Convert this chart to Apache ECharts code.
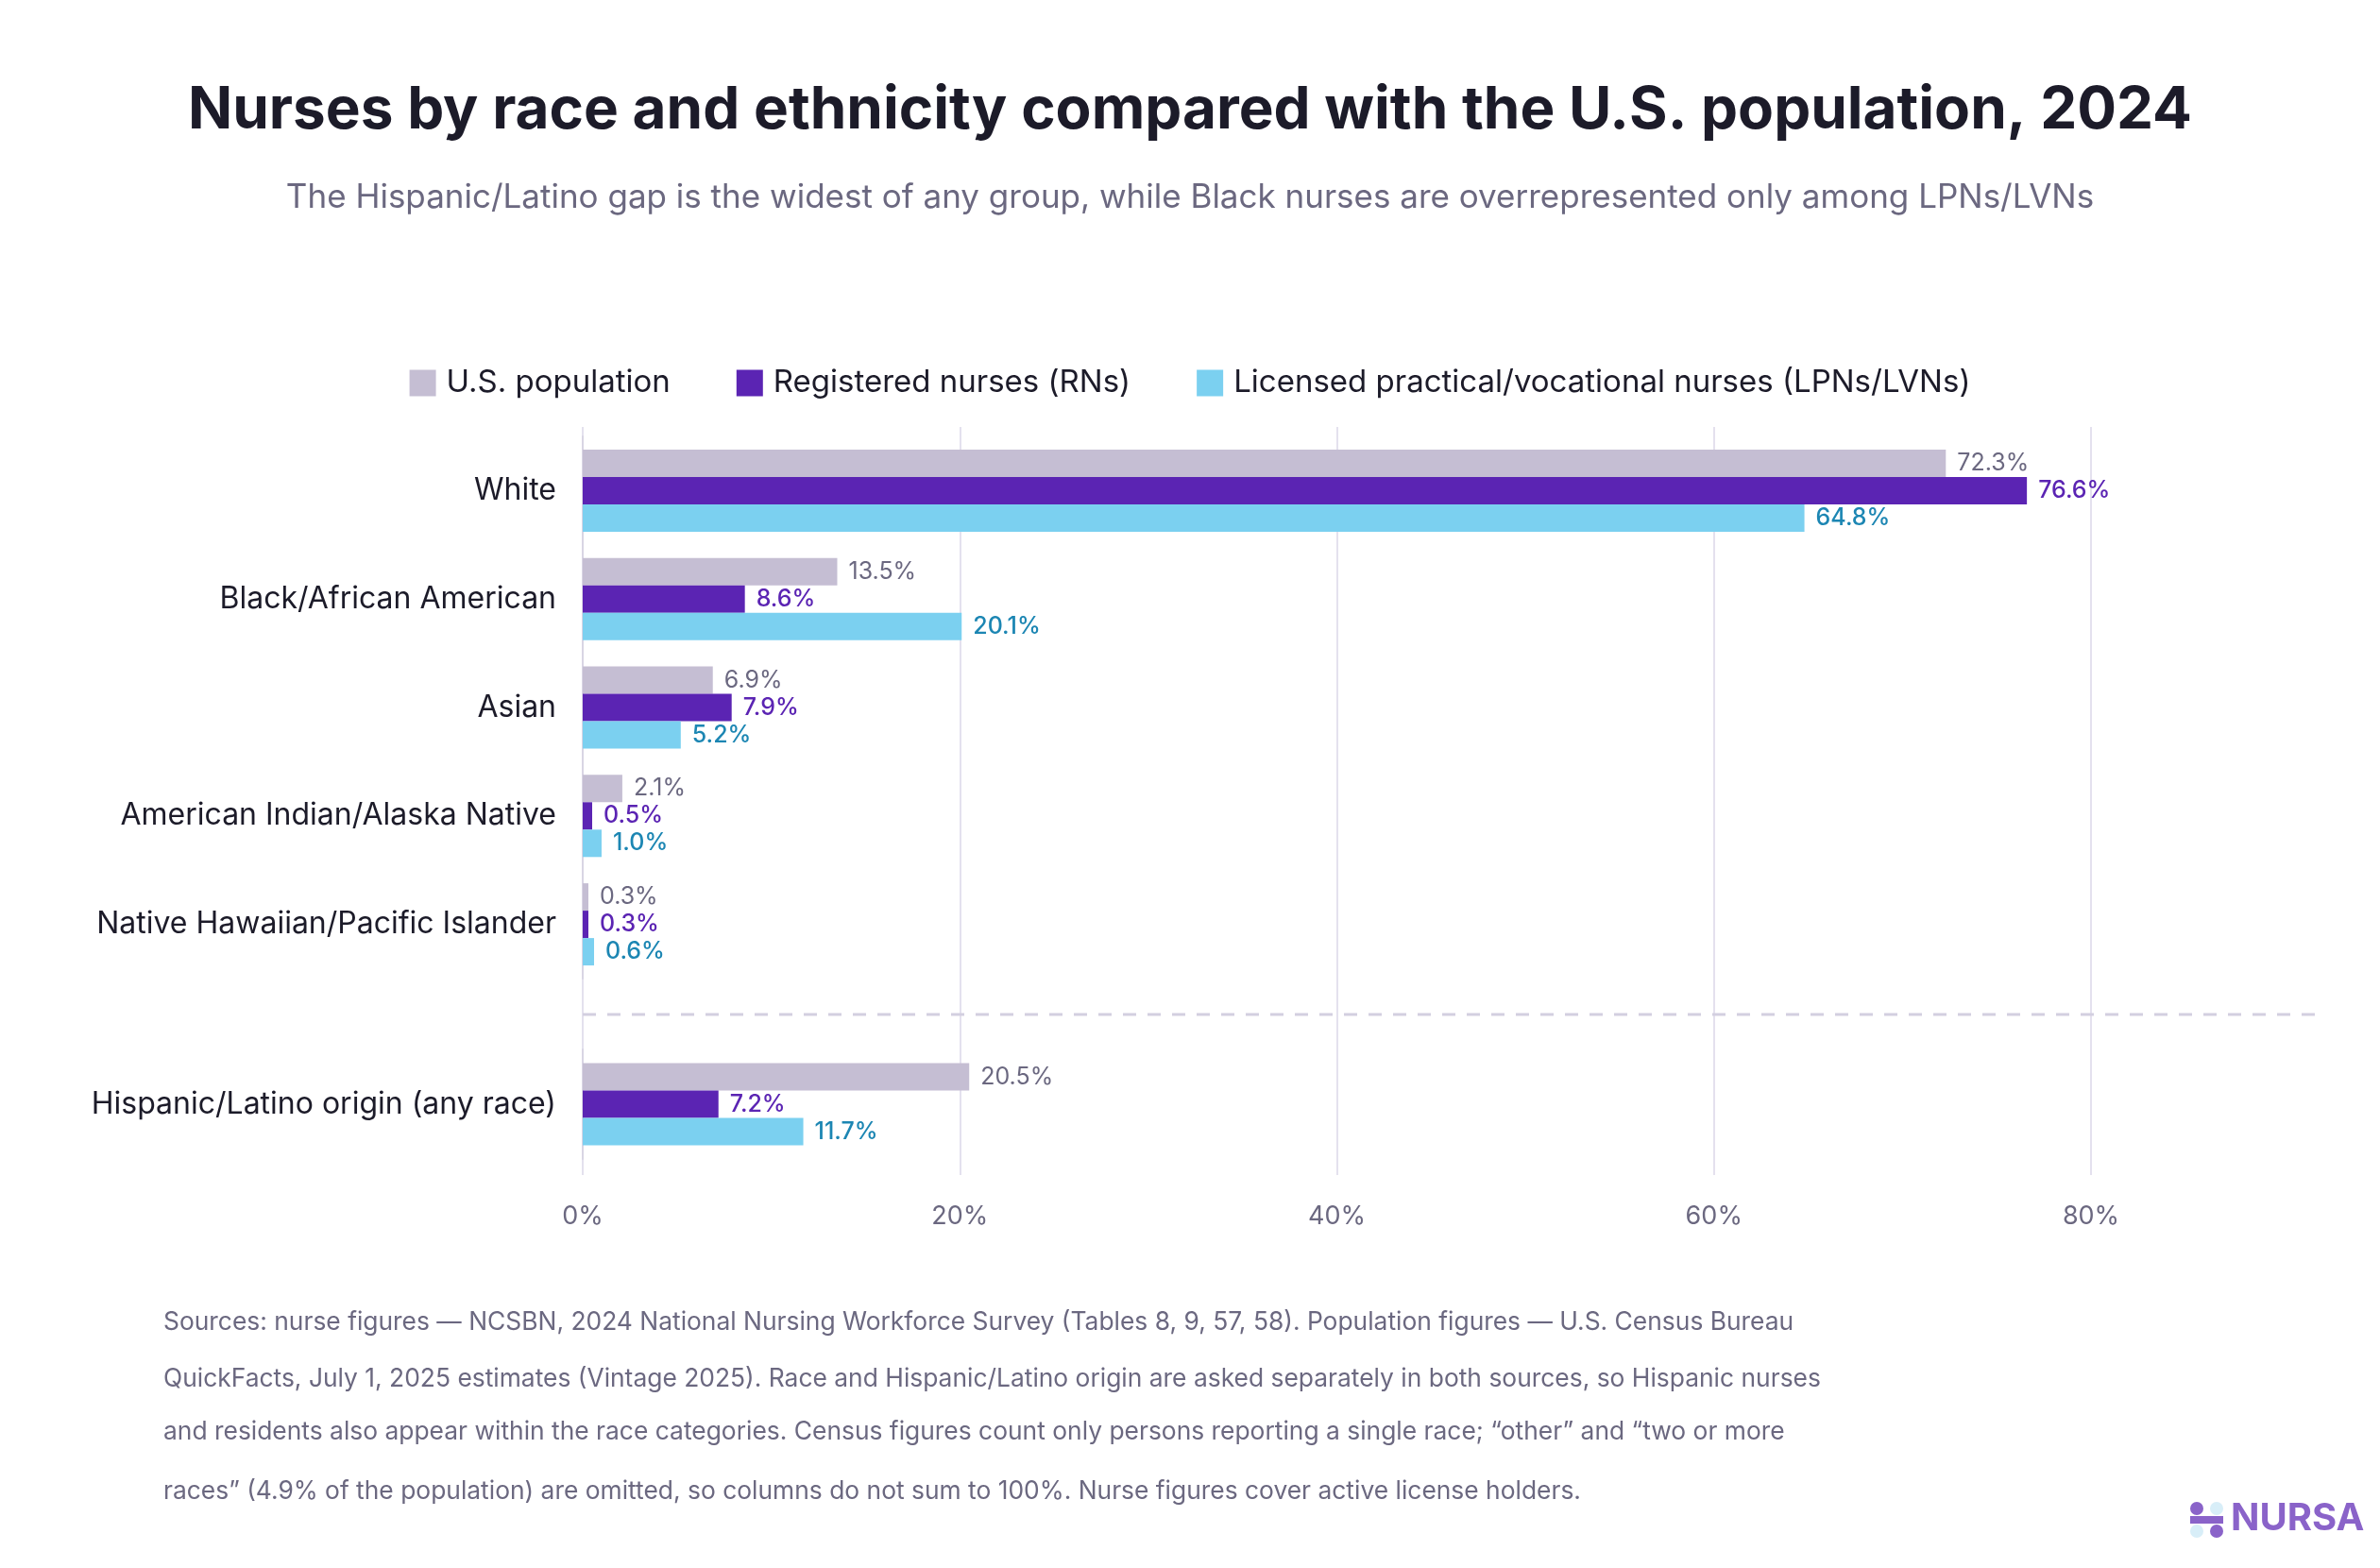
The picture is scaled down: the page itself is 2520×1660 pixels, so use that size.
<!DOCTYPE html>
<html><head><meta charset="utf-8">
<script src="https://cdn.jsdelivr.net/npm/echarts@6/dist/echarts.min.js"></script>
<style>html,body{margin:0;padding:0;background:#fff}#c{width:2520px;height:1660px}</style>
</head><body><div id="c"></div>
<script>
const raceCategories = ['White','Black/African American','Asian','American Indian/Alaska Native','Native Hawaiian/Pacific Islander'];
const ethCategories = ['Hispanic/Latino origin (any race)'];
const seriesNames = ['U.S. population','Registered nurses (RNs)','Licensed practical/vocational nurses (LPNs/LVNs)'];
const popRace = [72.3, 13.5, 6.9, 2.1, 0.3];
const rnRace = [76.6, 8.6, 7.9, 0.5, 0.3];
const lpnRace = [64.8, 20.1, 5.2, 1.0, 0.6];
const popEth = [20.5];
const rnEth = [7.2];
const lpnEth = [11.7];
const xTicks = [0, 20, 40, 60, 80];
const footnote = [
 'Sources: nurse figures — NCSBN, 2024 National Nursing Workforce Survey (Tables 8, 9, 57, 58). Population figures — U.S. Census Bureau',
 'QuickFacts, July 1, 2025 estimates (Vintage 2025). Race and Hispanic/Latino origin are asked separately in both sources, so Hispanic nurses',
 'and residents also appear within the race categories. Census figures count only persons reporting a single race; “other” and “two or more',
 'races” (4.9% of the population) are omitted, so columns do not sum to 100%. Nurse figures cover active license holders.'
];
const colors = ['#c5bed3','#5b24b3','#7bd0f0'];
const labelColors = ['#6b6880','#5b24b3','#1c86b3'];
const FONT = 'Inter, "Noto Sans", sans-serif';
const chart = echarts.init(document.getElementById('c'));
const L = 617, R = 306;
function xa(idx, show){
  return {type:'value', gridIndex:idx, min:xTicks[0], max:xTicks[xTicks.length-1], interval:20,
    axisLine:{show:false}, axisTick:{show:false},
    axisLabel:{show:show, formatter:v=>v+'%', color:'#6b6880', fontSize:27, fontFamily:FONT, margin:30},
    splitLine:{show:show, lineStyle:{color:'#e4e1ee', width:2}}};
}
function ya(idx, cats){
  return {type:'category', gridIndex:idx, data:cats, inverse:true,
    axisLine:{show:idx!==0, lineStyle:{color:'#d9d5e4', width:2}}, axisTick:{show:false},
    axisLabel:{show:idx!==0, color:'#1c1b29', fontSize:32, fontFamily:FONT, margin:28}};
}
const series = [];
const sets = [[popRace,rnRace,lpnRace],[popEth,rnEth,lpnEth]];
sets.forEach((s, gi) => {
  s.forEach((arr, k) => {
    series.push({name:seriesNames[k], type:'bar', xAxisIndex:gi+1, yAxisIndex:gi+1, data:arr,
      barWidth:29, barGap:'0%', itemStyle:{color:colors[k]},
      label:{show:true, position:'right', distance:12, formatter:p=>p.value.toFixed(1)+'%',
        color:labelColors[k], fontSize:25, fontFamily:FONT, fontWeight: k===0?'normal':500}});
  });
});
series.push({type:'bar', xAxisIndex:0, yAxisIndex:0, data:[], silent:true});
const graphic = [
  {type:'line', shape:{x1:L, y1:1074, x2:2463, y2:1074}, style:{stroke:'#d3cfe0', lineWidth:3, lineDash:[14,12]}, z:1},
  {type:'text', left:'center', top:86, style:{text:'Nurses by race and ethnicity compared with the U.S. population, 2024', font:'bold 62px '+FONT, fill:'#1c1b29'}},
  {type:'text', left:'center', top:192, style:{text:'The Hispanic/Latino gap is the widest of any group, while Black nurses are overrepresented only among LPNs/LVNs', font:'35px '+FONT, fill:'#6b6880'}},
  {type:'text', left:2362, top:1588, style:{text:'NURSA', font:'bold 40px '+FONT, fill:'#8a63c9'}},
  {type:'circle', shape:{cx:2326, cy:1597, r:7}, style:{fill:'#8a63c9'}},
  {type:'circle', shape:{cx:2347, cy:1597, r:7}, style:{fill:'#d8eef8'}},
  {type:'circle', shape:{cx:2326, cy:1621, r:7}, style:{fill:'#d8eef8'}},
  {type:'circle', shape:{cx:2347, cy:1621, r:7}, style:{fill:'#8a63c9'}},
  {type:'rect', shape:{x:2319, y:1605, width:35, height:8}, style:{fill:'#8a63c9'}}
];
const fy = [1387, 1447, 1503, 1566];
footnote.forEach((t,i)=>graphic.push({type:'text', left:173, top:fy[i], style:{text:t, font:'26.4px '+FONT, fill:'#6b6880'}}));
chart.setOption({
  backgroundColor:'#fff', animation:false,
  legend:{data:seriesNames, top:384, left:'center', itemWidth:28, itemHeight:28, itemGap:70, icon:'rect',
    textStyle:{fontSize:33, color:'#1c1b29', fontFamily:FONT, padding:[0,0,0,6]}},
  grid:[
    {left:L, right:R, top:452, height:792},
    {left:L, right:R, top:462, height:574},
    {left:L, right:R, top:1111, height:116}
  ],
  xAxis:[xa(0,true), xa(1,false), xa(2,false)],
  yAxis:[ya(0,['']), ya(1,raceCategories), ya(2,ethCategories)],
  series:series,
  graphic:graphic
});
</script></body></html>
